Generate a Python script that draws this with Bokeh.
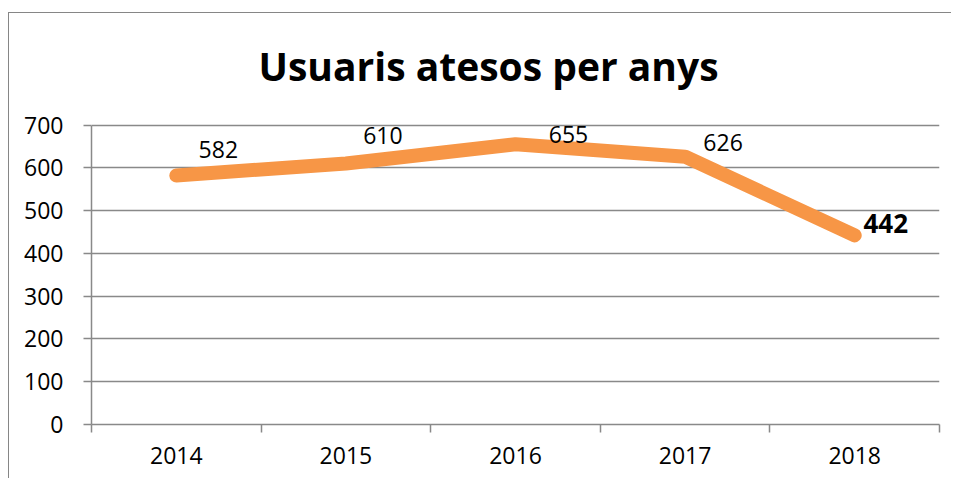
from bokeh.plotting import figure
from bokeh.models import FixedTicker, ColumnDataSource, Range1d, Label
from bokeh.core.properties import value
from bokeh.embed import file_html
from bokeh.resources import INLINE

# ---- data ----
years = ["2014", "2015", "2016", "2017", "2018"]
users = [582, 610, 655, 626, 442]
y_ticks = [0, 100, 200, 300, 400, 500, 600, 700]
title_text = "Usuaris atesos per anys"

# label placement / styling (screen px offsets from each point)
label_dx = [42, 37, 53, 38, 31]
label_dy = [-26, -28, -10, -14, -12]
label_weight = ["normal", "normal", "normal", "normal", "bold"]
label_size = ["23px", "23px", "23px", "23px", "26px"]

GRID = "#898989"
ORANGE = "#F79646"
FONT = "Open Sans"

n = len(years)
centers = [i + 0.5 for i in range(n)]
bounds = [float(i) for i in range(n + 1)]

# geometry (px): the frame reaches the top of the canvas; the value axis
# (0..700) occupies the lower PLOT_PX pixels of it, the title sits above.
W, H = 943, 466
MB_LEFT, MB_RIGHT, MB_TOP, MB_BOTTOM = 82, 13, 0, 55
PLOT_PX = 299.5
frame_h = H - MB_TOP - MB_BOTTOM
y_max = max(y_ticks)
y_end = y_max * frame_h / PLOT_PX

p = figure(width=W, height=H, output_backend="svg", toolbar_location=None,
           x_range=Range1d(0, n), y_range=Range1d(0, y_end),
           min_border_left=MB_LEFT, min_border_right=MB_RIGHT,
           min_border_top=MB_TOP, min_border_bottom=MB_BOTTOM)
p.styles = {"border-left": "1.5px solid #868686", "border-top": "1.5px solid #868686",
            "margin-top": "12px", "margin-left": "8px"}
p.outline_line_color = None
p.background_fill_color = "white"
p.border_fill_color = "white"

title = Label(x=n / 2, y=y_max, x_offset=-27, y_offset=60, text=title_text,
              text_font=FONT, text_font_style="bold", text_font_size="39px",
              text_color="black", text_align="center", text_baseline="alphabetic")
p.add_layout(title)

# x axis: labels at centers, tick marks at boundaries
p.xaxis.ticker = FixedTicker(ticks=centers, minor_ticks=bounds)
p.xaxis.major_label_overrides = {c: y for c, y in zip(centers, years)}
p.xaxis.major_tick_out = 0
p.xaxis.major_tick_in = 0
p.xaxis.minor_tick_out = 8
p.xaxis.minor_tick_in = 0
p.xaxis.minor_tick_line_color = GRID
p.xaxis.minor_tick_line_width = 1.5
p.xaxis.axis_line_color = GRID
p.xaxis.axis_line_width = 1.5
p.xaxis.major_label_text_font = FONT
p.xaxis.major_label_text_font_size = "23px"
p.xaxis.major_label_text_color = "black"
p.xaxis.major_label_standoff = 14
p.xgrid.visible = False

p.yaxis.ticker = FixedTicker(ticks=y_ticks, minor_ticks=[])
p.yaxis.bounds = (0, y_max)
p.yaxis.major_tick_out = 8
p.yaxis.major_tick_in = 0
p.yaxis.major_tick_line_color = GRID
p.yaxis.major_tick_line_width = 1.5
p.yaxis.axis_line_color = GRID
p.yaxis.axis_line_width = 1.5
p.yaxis.major_label_text_font = FONT
p.yaxis.major_label_text_font_size = "23px"
p.yaxis.major_label_text_color = "black"
p.yaxis.major_label_standoff = 20
p.ygrid.grid_line_color = GRID
p.ygrid.grid_line_width = 1.5
p.ygrid.grid_line_alpha = 1

src = ColumnDataSource(dict(x=centers, y=users, lab=[str(u) for u in users],
                            dx=label_dx, dy=label_dy, fw=label_weight, fs=label_size))
p.line("x", "y", source=src, line_color=ORANGE, line_width=14,
       line_cap="round", line_join="round")
p.text("x", "y", text="lab", source=src, x_offset="dx", y_offset="dy",
       text_font=value(FONT), text_font_size="fs", text_font_style="fw",
       text_align="center", text_baseline="middle", text_color="black")

open("out.html", "w").write(file_html(p, INLINE))
